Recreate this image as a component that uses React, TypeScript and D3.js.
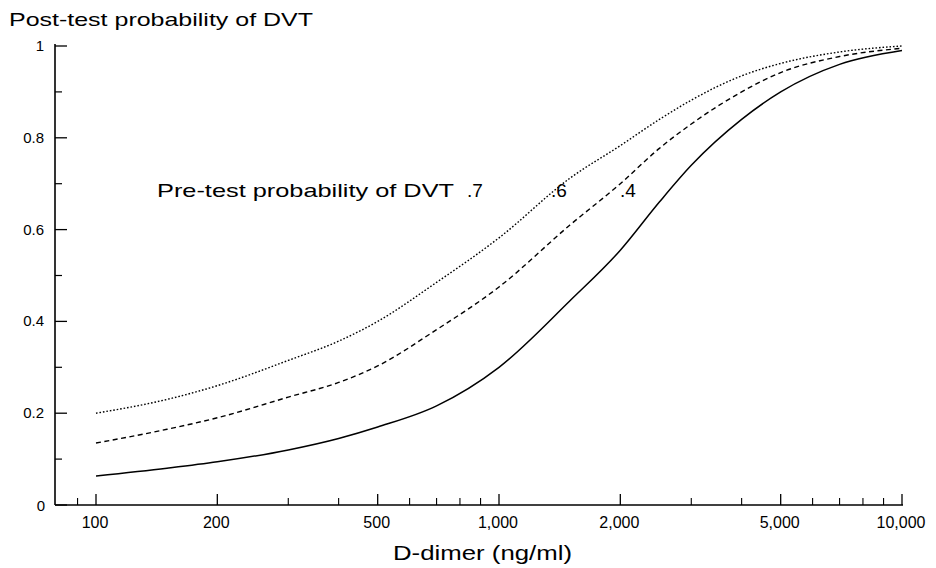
import React from "react";
import * as d3 from "d3";

const dimer = [100, 150, 200, 300, 400, 500, 700, 1000, 1500, 2000, 2500, 3000, 4000, 5000, 7000, 10000];
const p70 = [0.2, 0.23, 0.26, 0.315, 0.357, 0.4, 0.485, 0.582, 0.712, 0.783, 0.84, 0.882, 0.935, 0.962, 0.987, 1.0];
const p60 = [0.135, 0.165, 0.19, 0.235, 0.267, 0.303, 0.382, 0.475, 0.61, 0.70, 0.777, 0.83, 0.9, 0.942, 0.977, 0.995];
const p40 = [0.063, 0.08, 0.094, 0.12, 0.145, 0.17, 0.216, 0.3, 0.445, 0.555, 0.66, 0.74, 0.84, 0.9, 0.96, 0.99];
const xTickValues = [100, 200, 500, 1000, 2000, 5000, 10000];
const xTickLabels = ["100", "200", "500", "1,000", "2,000", "5,000", "10,000"];
const xMinor = [90, 300, 400, 600, 700, 800, 900, 3000, 4000, 6000, 7000, 8000, 9000];
const yTickValues = [0, 0.2, 0.4, 0.6, 0.8, 1];
const yTickLabels = ["0", "0.2", "0.4", "0.6", "0.8", "1"];
const yMinor = [0.1, 0.3, 0.5, 0.7, 0.9];
const seriesNames = [".7", ".6", ".4"];

export default function App() {
  const x = d3.scaleLog().domain([100, 10000]).range([96, 902]);
  const y = d3.scaleLinear().domain([0, 1]).range([505, 46]);
  const x0 = 55;
  const font = "'Liberation Sans', Arial, Helvetica, sans-serif";
  const line = d3
    .line<[number, number]>()
    .x((d) => x(d[0]))
    .y((d) => y(d[1]))
    .curve(d3.curveMonotoneX);
  const mk = (vals: number[]) => line(dimer.map((d, i) => [d, vals[i]] as [number, number])) || "";
  const series = [
    { vals: p70, dash: "1.6,1.9", w: 1.4 },
    { vals: p60, dash: "5,3.5", w: 1.4 },
    { vals: p40, dash: "none", w: 1.5 },
  ];
  const labelPos = [467, 551, 620];
  return (
    <svg width={936} height={568} style={{ position: "absolute", left: 0, top: 0, background: "#fff" }}>
      <rect width={936} height={568} fill="#fff" />
      {/* axes */}
      <line x1={x0} y1={y(1) - 2} x2={x0} y2={y(0)} stroke="#000" strokeWidth={1.6} />
      <line x1={x0} y1={y(0)} x2={x(10000) + 1} y2={y(0)} stroke="#000" strokeWidth={1.6} />
      {yTickValues.map((v, i) => (
        <g key={"yt" + i}>
          <line x1={x0} x2={x0 + 12} y1={y(v)} y2={y(v)} stroke="#000" strokeWidth={1.3} />
          <text x={i === 0 ? 45 : 44} y={y(v) + 5 + (i === 0 ? 1 : 0)} fontSize={15} fontFamily={font} textAnchor="end">
            {yTickLabels[i]}
          </text>
        </g>
      ))}
      {yMinor.map((v, i) => (
        <line key={"ym" + i} x1={x0} x2={x0 + 7} y1={y(v)} y2={y(v)} stroke="#000" strokeWidth={1.2} />
      ))}
      {xTickValues.map((v, i) => (
        <g key={"xt" + i}>
          <line x1={x(v)} x2={x(v)} y1={y(0)} y2={y(0) - 11} stroke="#000" strokeWidth={1.3} />
          <text x={x(v) - 1} y={y(0) + 23} fontSize={16} fontFamily={font} textAnchor="middle">
            {xTickLabels[i]}
          </text>
        </g>
      ))}
      {xMinor.map((v, i) => (
        <line key={"xm" + i} x1={x(v)} x2={x(v)} y1={y(0)} y2={y(0) - 7} stroke="#000" strokeWidth={1.1} />
      ))}
      {/* series */}
      {series.map((s, i) => (
        <path
          key={"s" + i}
          d={mk(s.vals)}
          fill="none"
          stroke="#000"
          strokeWidth={s.w}
          strokeDasharray={s.dash}
        />
      ))}
      {/* titles */}
      <text x={9} y={26} fontSize={19} fontFamily={font} textLength={304} lengthAdjust="spacingAndGlyphs">
        Post-test probability of DVT
      </text>
      <text x={393} y={560} fontSize={21} fontFamily={font} textLength={179} lengthAdjust="spacingAndGlyphs">
        D-dimer (ng/ml)
      </text>
      <text x={157} y={197} fontSize={19} fontFamily={font} textLength={297} lengthAdjust="spacingAndGlyphs">
        Pre-test probability of DVT
      </text>
      {seriesNames.map((t, i) => (
        <text key={"lb" + i} x={labelPos[i]} y={197} fontSize={19} fontFamily={font}>
          {t}
        </text>
      ))}
    </svg>
  );
}
